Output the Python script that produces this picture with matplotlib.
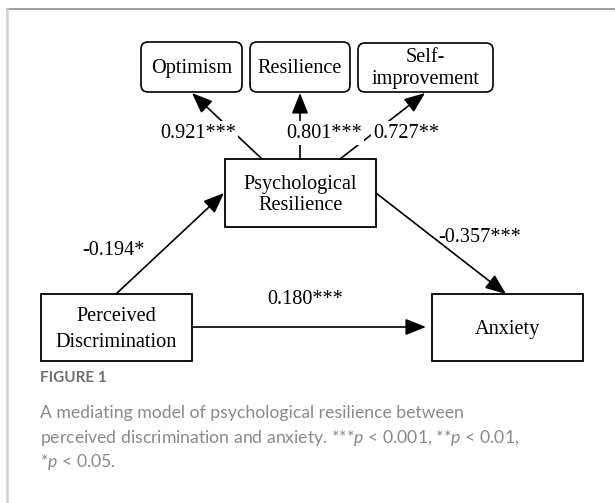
import matplotlib.pyplot as plt
from matplotlib.patches import FancyBboxPatch, Rectangle

# text of the model
indicators = ["Optimism", "Resilience", "Self-\nimprovement"]
loadings = ["0.921***", "0.801***", "0.727**"]
mediator = "Psychological\nResilience"
predictor = "Perceived\nDiscrimination"
outcome = "Anxiety"
path_a = "-0.194*"
path_b = "-0.357***"
path_c = "0.180***"

caption_head = "FIGURE 1"
caption_lines = [
    "A mediating model of psychological resilience between",
    "perceived discrimination and anxiety. ***$p$ < 0.001, **$p$ < 0.01,",
    "*$p$ < 0.05.",
]

# layout in pixels (x0, y0, x1, y1), y going down
ind_boxes = [(141, 42, 242, 92), (250, 42, 350, 92), (358, 43, 493, 92)]
med_box = (225, 159, 376, 227)
pred_box = (41, 294, 192, 361)
out_box = (432, 294, 583, 361)

cap_font = 'Lato'
plt.rcParams['mathtext.fontset'] = 'custom'
plt.rcParams['mathtext.rm'] = cap_font
plt.rcParams['mathtext.it'] = cap_font + ':italic'

fig = plt.figure(figsize=(6.15, 5.03), dpi=100)
ax = fig.add_axes([0, 0, 1, 1])
ax.set_xlim(0, 615)
ax.set_ylim(503, 0)
ax.axis('off')

serif = 'Liberation Serif'
fs = 14.6

# page frame
ax.plot([7, 615], [9, 9], color='#9a9a9a', lw=1.3)
ax.plot([7, 7], [9, 503], color='#d0d0d0', lw=1.8)

def box(b, rounded=False):
    x0, y0, x1, y1 = b
    if rounded:
        p = FancyBboxPatch((x0, y0), x1 - x0, y1 - y0,
                           boxstyle="round,pad=0,rounding_size=7",
                           fc='white', ec='black', lw=1.2, zorder=2)
    else:
        p = Rectangle((x0, y0), x1 - x0, y1 - y0, fc='white', ec='black',
                      lw=1.3, zorder=2)
    ax.add_patch(p)

def arrow(start, tip):
    ax.annotate("", xy=tip, xytext=start,
                arrowprops=dict(arrowstyle="-|>,head_length=0.9,head_width=0.36",
                                color='black', lw=1.2, mutation_scale=14,
                                shrinkA=0, shrinkB=0), zorder=3)

def center(b):
    return ((b[0] + b[2]) / 2, (b[1] + b[3]) / 2)

# boxes and labels
for b, name in zip(ind_boxes, indicators):
    box(b, rounded=True)
    cx, cy = center(b)
    ax.text(cx, cy + 1, name, ha='center', va='center', family=serif,
            fontsize=fs, linespacing=1.2, zorder=4)

for b, name, ls in [(med_box, mediator, 1.2), (pred_box, predictor, 1.55),
                    (out_box, outcome, 1.2)]:
    box(b)
    cx, cy = center(b)
    ax.text(cx, cy + 2, name, ha='center', va='center', family=serif,
            fontsize=fs, linespacing=ls, zorder=4)

# loadings arrows
starts = [(262, 159), (300, 159), (340, 159)]
tips = [(192, 93), (300, 93), (425, 93)]
lab_pos = [(198, 133), (324, 133), (406, 133)]
for s, t, lab, p in zip(starts, tips, loadings, lab_pos):
    arrow(s, t)
    ax.text(p[0], p[1], lab, ha='center', va='center', family=serif,
            fontsize=fs, zorder=5,
            bbox=dict(fc='white', ec='none', pad=1.5))

# structural paths
arrow((116, 294), (224, 193))
arrow((376, 193), (506, 294))
arrow((192, 327), (426, 327))
ax.text(113, 250, path_a, ha='center', va='center', family=serif, fontsize=fs)
ax.text(480, 237, path_b, ha='center', va='center', family=serif, fontsize=fs)
ax.text(305, 300, path_c, ha='center', va='center', family=serif, fontsize=fs)

# caption
ax.text(40, 378, caption_head, ha='left', va='center', family=cap_font,
        fontsize=11, color='#6e6e6e', weight='bold')
for i, line in enumerate(caption_lines):
    ax.text(40, 413 + i * 24.5, line, ha='left', va='center',
            family=cap_font, fontsize=12.7, color='#8a8a8a')

fig.savefig('out.png', dpi=100, facecolor='white')
